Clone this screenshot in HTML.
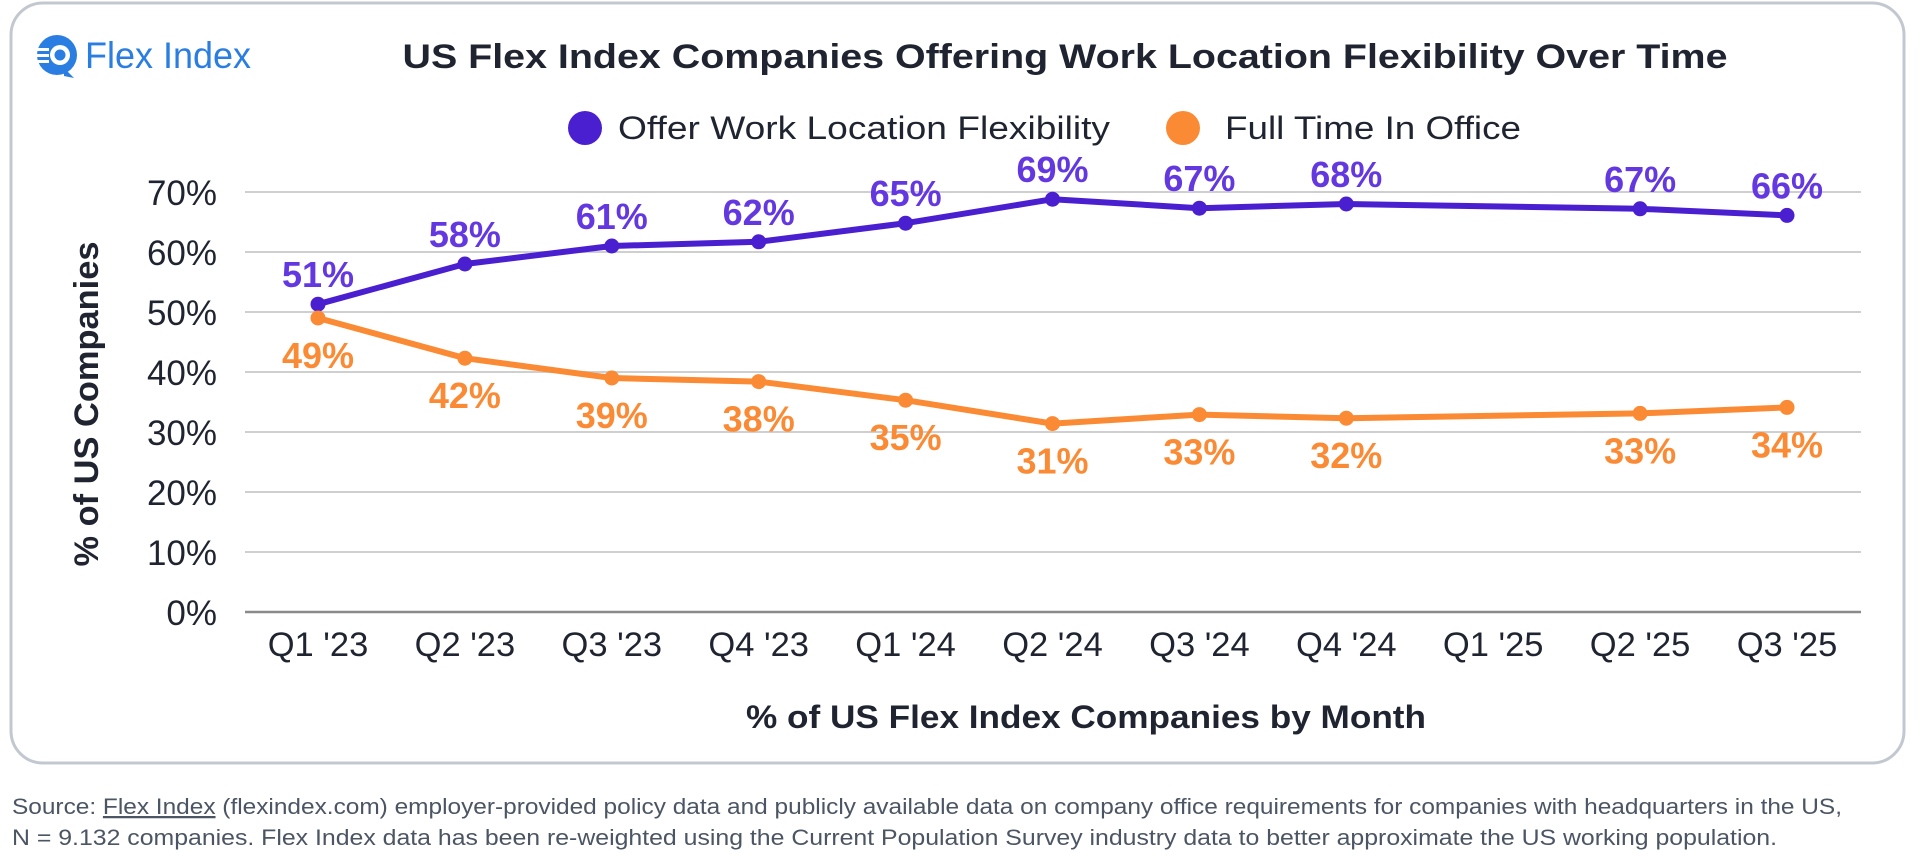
<!DOCTYPE html>
<html><head><meta charset="utf-8"><style>
html,body{margin:0;padding:0;background:#fff;width:1920px;height:862px;overflow:hidden;font-family:"Liberation Sans",sans-serif}
</style></head><body>
<svg id="chart" width="1920" height="862" viewBox="0 0 1920 862" xmlns="http://www.w3.org/2000/svg">
<rect x="11" y="3" width="1893" height="760" rx="32" fill="#fff" stroke="#c3c8d0" stroke-width="3"/>
<g>
 <circle cx="57" cy="55" r="20" fill="#2a7de1"/>
 <circle cx="60" cy="55" r="10" fill="#fff"/>
 <circle cx="60" cy="55" r="5.5" fill="#2a7de1"/>
 <rect x="36" y="48" width="13" height="3" fill="#fff"/><rect x="36" y="54" width="13" height="3" fill="#fff"/><rect x="36" y="60" width="13" height="3" fill="#fff"/>
 <path d="M64 68 L74 78 L64 76 Z" fill="#2a7de1"/>
 <text x="85" y="68" font-size="37" fill="#2a7de1" textLength="166" lengthAdjust="spacingAndGlyphs">Flex Index</text>
</g>
<text x="1065" y="68" text-anchor="middle" font-size="34" font-weight="bold" fill="#1f2430" textLength="1325" lengthAdjust="spacingAndGlyphs">US Flex Index Companies Offering Work Location Flexibility Over Time</text>
<g>
 <circle cx="585" cy="128" r="17" fill="#4a1fd0"/>
 <text x="618" y="139" font-size="32" fill="#1f2430" textLength="492" lengthAdjust="spacingAndGlyphs">Offer Work Location Flexibility</text>
 <circle cx="1183" cy="128" r="17" fill="#fb8a35"/>
 <text x="1225" y="139" font-size="32" fill="#1f2430" textLength="296" lengthAdjust="spacingAndGlyphs">Full Time In Office</text>
</g>
<g id="grid"></g><g id="yticks"></g><g id="xticks"></g><g id="series"></g>
<text transform="translate(98,404) rotate(-90)" text-anchor="middle" font-size="34" font-weight="bold" fill="#1f2430" textLength="325" lengthAdjust="spacingAndGlyphs">% of US Companies</text>
<text x="1086" y="728" text-anchor="middle" font-size="32" font-weight="bold" fill="#1f2430" textLength="680" lengthAdjust="spacingAndGlyphs">% of US Flex Index Companies by Month</text>
<g font-size="22.5" fill="#4b5563">
 <text x="12" y="814" textLength="1830" lengthAdjust="spacingAndGlyphs">Source: <tspan text-decoration="underline">Flex Index</tspan> (flexindex.com) employer-provided policy data and publicly available data on company office requirements for companies with headquarters in the US,</text>
 <text x="12" y="845" textLength="1765" lengthAdjust="spacingAndGlyphs">N = 9.132 companies. Flex Index data has been re-weighted using the Current Population Survey industry data to better approximate the US working population.</text>
</g>
</svg>
<script>
const categories = ["Q1 '23","Q2 '23","Q3 '23","Q4 '23","Q1 '24","Q2 '24","Q3 '24","Q4 '24","Q1 '25","Q2 '25","Q3 '25"];
const flexValues = [51.3,58,61,61.7,64.8,68.8,67.3,68,null,67.2,66.1];
const flexLabels = ["51%","58%","61%","62%","65%","69%","67%","68%",null,"67%","66%"];
const officeValues = [49,42.3,39,38.4,35.3,31.4,32.9,32.3,null,33.1,34.1];
const officeLabels = ["49%","42%","39%","38%","35%","31%","33%","32%",null,"33%","34%"];
const yTicks = [0,10,20,30,40,50,60,70];
const NS="http://www.w3.org/2000/svg";
const X0=245,X1=1861,Y0=612,PER=6;
const xPos=i=>318+i*(1787-318)/(categories.length-1);
const yPos=v=>Y0-v*PER;
function mk(tag,attrs,parent,txt){const e=document.createElementNS(NS,tag);for(const k in attrs)e.setAttribute(k,attrs[k]);if(txt!=null)e.textContent=txt;parent.appendChild(e);return e;}
const grid=document.getElementById('grid'),yt=document.getElementById('yticks'),xt=document.getElementById('xticks'),ser=document.getElementById('series');
yTicks.forEach(v=>{
 const l=mk('line',{x1:X0,x2:X1,y1:yPos(v),y2:yPos(v),stroke:v===0?'#8a8a8a':'#cfcfcf','stroke-width':v===0?2.5:2},grid);
 
 
 const t=mk('text',{x:217,y:yPos(v)+13,'text-anchor':'end','font-size':35,fill:'#1f2430'},yt,v+'%');
 
 
});
categories.forEach((c,i)=>{
 const t=mk('text',{x:xPos(i),y:656,'text-anchor':'middle','font-size':34.5,fill:'#1f2430'},xt,c);
 
 
});
function drawSeries(vals,labels,color,lblColor,name,dy){
 const pts=[];vals.forEach((v,i)=>{if(v!=null)pts.push([xPos(i),yPos(v)]);});
 const p=mk('polyline',{points:pts.map(q=>q.join(',')).join(' '),fill:'none',stroke:color,'stroke-width':6,'stroke-linejoin':'round','stroke-linecap':'round'},ser);
 
 
 vals.forEach((v,i)=>{
  if(v==null)return;
  const c=mk('circle',{cx:xPos(i),cy:yPos(v),r:7.5,fill:color},ser);
  
  
  const t=mk('text',{x:xPos(i),y:yPos(v)+dy,'text-anchor':'middle','font-size':36,'font-weight':'bold',fill:lblColor},ser,labels[i]);
  
  
 });
}
drawSeries(flexValues,flexLabels,'#4a1fd0','#6438e0','flexibility',-17);
drawSeries(officeValues,officeLabels,'#fb8a35','#fb8a35','office',50);
</script>
</body></html>
